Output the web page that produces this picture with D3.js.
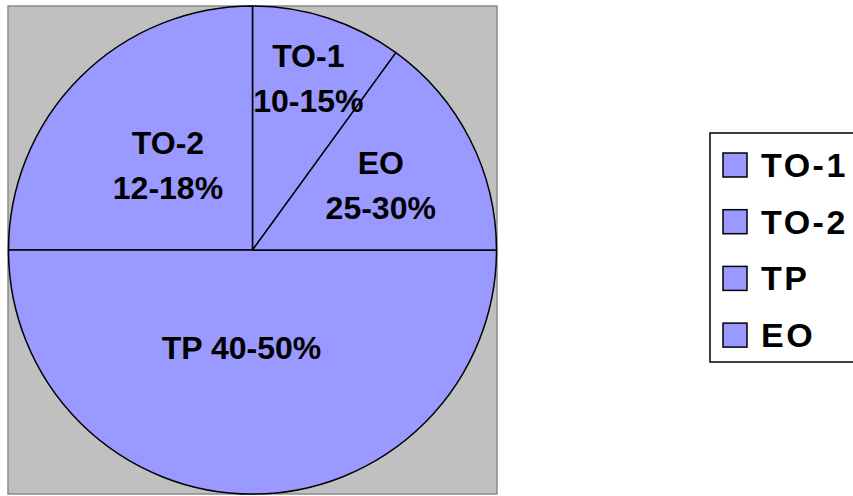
<!DOCTYPE html>
<html>
<head>
<meta charset="utf-8">
<script src="https://cdn.jsdelivr.net/npm/d3@7"></script>
<style>
  html, body { margin: 0; padding: 0; background: #ffffff; }
  svg { display: block; }
  text { font-family: "Liberation Sans", Arial, sans-serif; font-weight: bold; fill: #000; }
</style>
</head>
<body>
<svg id="chart" width="853" height="496"></svg>
<script>
// Series in data order (legend order)
const categories = ["TO-1", "TO-2", "TP", "EO"];
const shares = [10, 25, 50, 15];
const labelLines = [["TO-1", "10-15%"], ["TO-2", "12-18%"], ["TP 40-50%"], ["EO", "25-30%"]];

// Layout
const W = 853, H = 496;
const plot = { x: 8, y: 6, w: 489, h: 488 };
const cx = 252.5, cy = 250, R = 244;
const startDeg = 36;                      // first slice ends at 12 o'clock, slices run anticlockwise
const labelRadius = [0.74, 0.49, 0.40, 0.59];
const labelShiftX = [0, 0, -11, 0];
const fill = "#9999ff";

const svg = d3.select("#chart");

// Plot area
svg.append("rect")
  .attr("x", plot.x).attr("y", plot.y)
  .attr("width", plot.w).attr("height", plot.h)
  .attr("fill", "#c0c0c0")
  .attr("stroke", "#8a8a8a").attr("stroke-width", 1.5);

const pie = d3.pie()
  .sort(null)
  .value(d => d)
  .startAngle(startDeg * Math.PI / 180)
  .endAngle(startDeg * Math.PI / 180 - 2 * Math.PI);

const arcs = pie(shares);
const arc = d3.arc().innerRadius(0).outerRadius(R);

const g = svg.append("g").attr("transform", `translate(${cx},${cy})`);

g.selectAll("path.slice")
  .data(arcs)
  .join("path")
  .attr("class", "slice")
  .attr("d", arc)
  .attr("fill", fill)
  .attr("stroke", "#000")
  .attr("stroke-width", 1.5)
  .attr("stroke-linejoin", "round");

// Slice labels
const fs = 32, lineGap = 45, capH = 23;
arcs.forEach((a, i) => {
  const r = R * labelRadius[i];
  const [lx0, ly] = d3.arc().innerRadius(r).outerRadius(r).centroid(a);
  const lx = lx0 + labelShiftX[i];
  const lines = labelLines[i];
  const blockH = capH + lineGap * (lines.length - 1);
  const t = g.append("text")
    .attr("text-anchor", "middle")
    .style("font-size", fs + "px");
  lines.forEach((s, k) => {
    t.append("tspan")
      .attr("x", lx)
      .attr("y", ly - blockH / 2 + capH + k * lineGap)
      .text(s);
  });
});

// Legend
const leg = { x: 710, y: 133, w: 200, h: 229, first: 165, step: 56.7, fs: 34 };
svg.append("rect")
  .attr("x", leg.x).attr("y", leg.y)
  .attr("width", leg.w).attr("height", leg.h)
  .attr("fill", "#ffffff")
  .attr("stroke", "#000").attr("stroke-width", 1.5);

const items = svg.append("g").selectAll("g")
  .data(categories)
  .join("g")
  .attr("transform", (d, i) => `translate(${leg.x}, ${leg.first + i * leg.step})`);

items.append("rect")
  .attr("x", 13).attr("y", -12)
  .attr("width", 24).attr("height", 24)
  .attr("fill", fill)
  .attr("stroke", "#000").attr("stroke-width", 1.5);

items.append("text")
  .attr("x", 51).attr("y", 12)
  .style("font-size", leg.fs + "px")
  .style("letter-spacing", "2.5px")
  .text(d => d);
</script>
</body>
</html>
